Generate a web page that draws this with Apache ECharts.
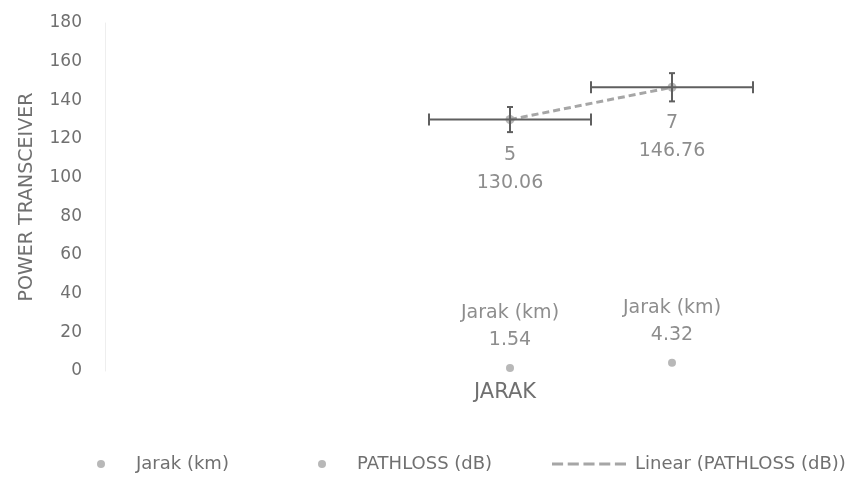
<!DOCTYPE html>
<html><head><meta charset="utf-8">
<script src="https://cdn.jsdelivr.net/npm/echarts@6/dist/echarts.min.js"></script>
<style>html,body{margin:0;padding:0;background:#fff}#c{width:857px;height:483px}</style>
</head><body><div id="c"></div>
<script>
const xValues = [5, 7];
const jarakValues = [1.54, 4.32];
const pathlossValues = [130.06, 146.76];
const xErrors = [1, 1];
const yErrors = [6.5, 7.3];
const yMin = 0, yMax = 180, yStep = 20;
const xMin = 0, xMax = 9;
const seriesNames = ['Jarak (km)', 'PATHLOSS (dB)', 'Linear (PATHLOSS (dB))'];
const xAxisTitle = 'JARAK';
const yAxisTitle = 'POWER TRANSCEIVER';

const FONT = 'DejaVu Sans';
const TXT = '#707070';

// least squares linear trend of PATHLOSS
const n = xValues.length;
const mx = xValues.reduce((a,b)=>a+b,0)/n;
const my = pathlossValues.reduce((a,b)=>a+b,0)/n;
let sxy=0,sxx=0;
for(let i=0;i<n;i++){sxy+=(xValues[i]-mx)*(pathlossValues[i]-my);sxx+=(xValues[i]-mx)**2;}
const slope = sxy/sxx, icpt = my - slope*mx;
const xs0 = Math.min(...xValues), xs1 = Math.max(...xValues);
const trendData = [[xs0, icpt+slope*xs0],[xs1, icpt+slope*xs1]];

const jarakData = xValues.map((x,i)=>[x, jarakValues[i]]);
const pathData = xValues.map((x,i)=>[x, pathlossValues[i]]);
const errData = xValues.map((x,i)=>[x, pathlossValues[i], xErrors[i], yErrors[i]]);

const dashIcon = 'path://M0,0h12v3h-12z M17,0h12v3h-12z M34,0h12v3h-12z M51,0h12v3h-12z M68,0h12v3h-12z';

const chart = echarts.init(document.getElementById('c'), null, {renderer:'canvas'});
const legendBase = {
  bottom: 5, itemWidth: 8, itemHeight: 8,
  textStyle: {fontFamily: FONT, fontSize: 18, color: TXT, padding: [0,0,0,26]}
};
chart.setOption({
  animation: false,
  backgroundColor: '#fff',
  textStyle: {fontFamily: FONT},
  grid: {left: 105, right: 23, top: 23, bottom: 112, containLabel: false},
  xAxis: {
    type: 'value', min: xMin, max: xMax,
    axisLine: {show: false}, axisTick: {show: false}, axisLabel: {show: false}, splitLine: {show: false}
  },
  yAxis: {
    type: 'value', min: yMin, max: yMax, interval: yStep,
    name: yAxisTitle, nameLocation: 'middle', nameGap: 68,
    nameTextStyle: {fontFamily: FONT, fontSize: 19, color: TXT},
    axisLine: {show: true, lineStyle: {color: '#eeeeee', width: 1}},
    axisTick: {show: false},
    splitLine: {show: false},
    axisLabel: {fontFamily: FONT, fontSize: 17, color: TXT, margin: 23, padding: [0,0,11,0]}
  },
  legend: [
    Object.assign({}, legendBase, {left: 92, data: [{name: seriesNames[0], icon: 'circle'}]}),
    Object.assign({}, legendBase, {left: 313, data: [{name: seriesNames[1], icon: 'circle'}]}),
    Object.assign({}, legendBase, {left: 547, itemWidth: 74, itemHeight: 3,
      textStyle: {fontFamily: FONT, fontSize: 18, color: TXT, padding: [0,0,0,4]},
      data: [{name: seriesNames[2], icon: dashIcon}]})
  ],
  graphic: [{
    type: 'text', left: 474, top: 382,
    style: {text: xAxisTitle, fontFamily: FONT, fontSize: 21, fill: TXT}
  }],
  series: [
    {
      name: seriesNames[0], type: 'scatter', data: jarakData,
      symbol: 'circle', symbolSize: 8,
      itemStyle: {color: '#a6a6a6'},
      label: {show: true, position: 'top', distance: 10,
        formatter: p => p.seriesName + '\n' + p.value[1].toFixed(2),
        fontFamily: FONT, fontSize: 19, lineHeight: 27, color: TXT}
    },
    {
      name: seriesNames[1], type: 'scatter', data: pathData,
      symbol: 'circle', symbolSize: 9,
      itemStyle: {color: '#a6a6a6'},
      label: {show: true, position: 'bottom', distance: 17,
        formatter: p => p.value[0] + '\n' + p.value[1].toFixed(2),
        fontFamily: FONT, fontSize: 19, lineHeight: 28, color: TXT},
      z: 3
    },
    {
      name: seriesNames[2], type: 'line', data: trendData,
      symbol: 'none', lineStyle: {color: '#a6a6a6', width: 3, type: [7, 4]},
      itemStyle: {color: '#a6a6a6'}, z: 4
    },
    {
      name: 'errbars', type: 'custom', data: errData, z: 5,
      renderItem: (params, api) => {
        const x = api.value(0), y = api.value(1), ex = api.value(2), ey = api.value(3);
        const l = api.coord([x-ex, y]), r = api.coord([x+ex, y]);
        const t = api.coord([x, y+ey]), b = api.coord([x, y-ey]);
        const st = {stroke: '#5f5f5f', lineWidth: 2};
        const cap = 6, vcap = 3;
        return {type: 'group', children: [
          {type:'line', shape:{x1:l[0],y1:l[1],x2:r[0],y2:r[1]}, style: st},
          {type:'line', shape:{x1:l[0],y1:l[1]-cap,x2:l[0],y2:l[1]+cap}, style: st},
          {type:'line', shape:{x1:r[0],y1:r[1]-cap,x2:r[0],y2:r[1]+cap}, style: st},
          {type:'line', shape:{x1:t[0],y1:t[1],x2:b[0],y2:b[1]}, style: st},
          {type:'line', shape:{x1:t[0]-vcap,y1:t[1],x2:t[0]+vcap,y2:t[1]}, style: st},
          {type:'line', shape:{x1:b[0]-vcap,y1:b[1],x2:b[0]+vcap,y2:b[1]}, style: st}
        ]};
      }
    }
  ]
});
</script>
</body></html>
